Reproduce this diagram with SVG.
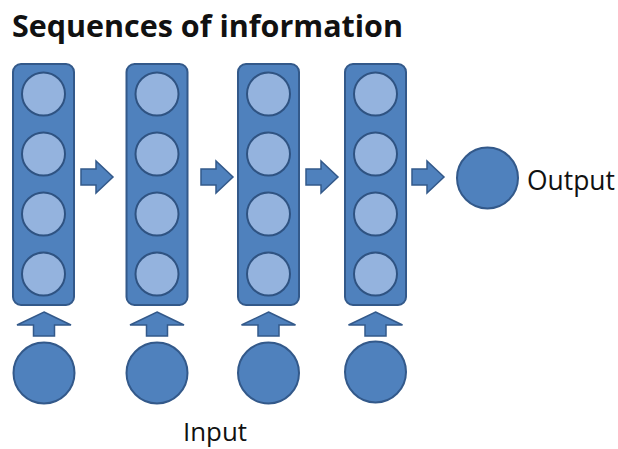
<svg xmlns="http://www.w3.org/2000/svg" width="618" height="449" viewBox="0 0 618 449">
  <defs>
    <style>
      .layer { fill: #4f81bd; stroke: #33598a; stroke-width: 2; }
      .unit { fill: #94b3de; stroke: #2f5382; stroke-width: 2; }
      .node { fill: #4f81bd; stroke: #33598a; stroke-width: 2; }
      .arrow { fill: #4f81bd; stroke: #33598a; stroke-width: 1.5; stroke-linejoin: miter; }
      .label { font-family: "Open Sans", "Liberation Sans", sans-serif; fill: #111; }
      .title { font-family: "Open Sans", "Liberation Sans", sans-serif; font-weight: bold; fill: #111; }
    </style>
    <!-- a stacked layer of four units, centred on x=0 -->
    <g id="layerShape">
      <rect class="layer" x="-30.5" y="64" width="61" height="241" rx="8" ry="8"/>
      <circle class="unit" cx="0" cy="94" r="21.5"/>
      <circle class="unit" cx="0" cy="154" r="21.5"/>
      <circle class="unit" cx="0" cy="214" r="21.5"/>
      <circle class="unit" cx="0" cy="274" r="21.5"/>
    </g>
    <!-- block arrow pointing right, tip at x=32, centred on y=0 -->
    <path id="rightArrow" class="arrow" d="M0,-8 H15 V-16 L32,0 L15,16 V8 H0 Z"/>
    <!-- block arrow pointing up, tip at y=0, centred on x=0 -->
    <path id="upArrow" class="arrow" d="M0,0 L27,13 H10.5 V24 H-10.5 V13 H-27 Z"/>
  </defs>

  <rect width="618" height="449" fill="#ffffff"/>

  <text class="title" x="12" y="37" font-size="30" textLength="391" lengthAdjust="spacingAndGlyphs">Sequences of information</text>

  <!-- recurrent layers -->
  <g id="step1"><use href="#layerShape" x="43.5"/></g>
  <g id="step2"><use href="#layerShape" x="157"/></g>
  <g id="step3"><use href="#layerShape" x="268.5"/></g>
  <g id="step4"><use href="#layerShape" x="375.5"/></g>

  <!-- inputs -->
  <g id="input1"><circle class="node" cx="44" cy="373" r="30.5"/></g>
  <g id="input2"><circle class="node" cx="157" cy="373" r="30.5"/></g>
  <g id="input3"><circle class="node" cx="268.5" cy="373" r="30.5"/></g>
  <g id="input4"><circle class="node" cx="375.5" cy="372" r="30.5"/></g>

  <!-- output -->
  <g id="output">
    <circle class="node" cx="487.5" cy="178" r="30.5"/>
    <text class="label" x="527" y="190" font-size="27" textLength="88" lengthAdjust="spacingAndGlyphs">Output</text>
  </g>

  <g id="inputLabel">
    <text class="label" x="183" y="441" font-size="26" textLength="64" lengthAdjust="spacingAndGlyphs">Input</text>
  </g>

  <!-- connectors -->
  <g id="connectors">
    <use href="#rightArrow" x="81" y="177"/>
    <use href="#rightArrow" x="201" y="177"/>
    <use href="#rightArrow" x="306" y="177"/>
    <use href="#rightArrow" x="412" y="177"/>
    <use href="#upArrow" x="44" y="312"/>
    <use href="#upArrow" x="157" y="312"/>
    <use href="#upArrow" x="268.5" y="312"/>
    <use href="#upArrow" x="375.5" y="312"/>
  </g>
</svg>
